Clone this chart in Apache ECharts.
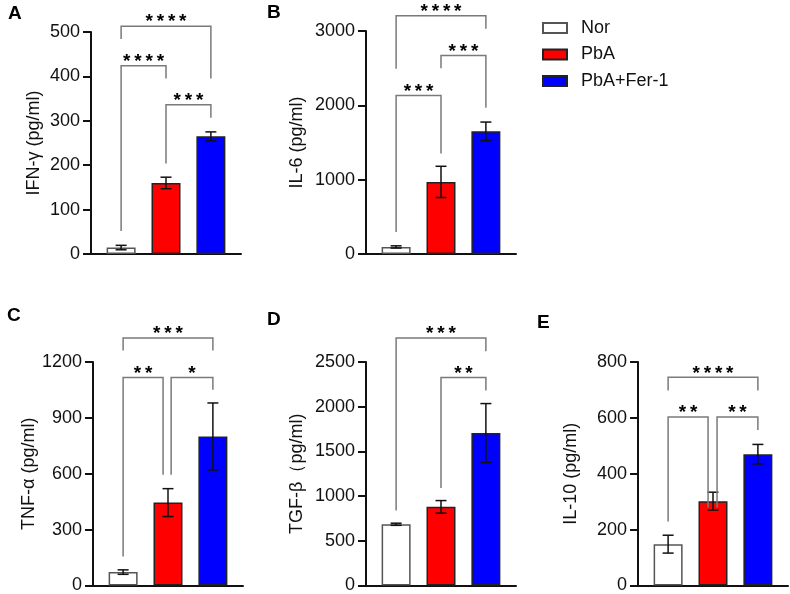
<!DOCTYPE html>
<html>
<head>
<meta charset="utf-8">
<script src="https://cdn.jsdelivr.net/npm/echarts@6.0.0/dist/echarts.min.js"></script>
<style>
  html, body { margin: 0; padding: 0; background: #fff; }
  #chart { width: 790px; height: 594px; }
</style>
</head>
<body>
<div id="chart"></div>
<script>
const groups = ['Nor', 'PbA', 'PbA+Fer-1']
const groupColors = ['#ffffff', '#ff0000', '#0000ff']
const groupBorders = ['#555555', '#222222', '#222222']

// mean / sd per group
const ifnMean = [14.5, 160, 265]
const ifnSd = [5, 13, 10]
const il6Mean = [95, 970, 1650]
const il6Sd = [15, 210, 125]
const tnfMean = [72, 445, 800]
const tnfSd = [12, 75, 180]
const tgfMean = [685, 880, 1705]
const tgfSd = [12, 70, 330]
const il10Mean = [148, 302, 470]
const il10Sd = [32, 32, 35]

// significance brackets: [fromGroup, toGroup, lineY, leftEndY, rightEndY, stars]
const ifnBrackets = [
  [0, 2, 513, 484, 395, 4],
  [0, 1, 424, 52, 395, 4],
  [1, 2, 336, 204, 307, 3],
]
const il6Brackets = [
  [0, 2, 3205, 2491, 3031, 4],
  [1, 2, 2669, 2500, 1969, 3],
  [0, 1, 2133, 295, 1353, 3],
]
const tnfBrackets = [
  [0, 2, 1329, 1262, 1262, 3],
  [0, 0.89, 1117, 156, 595, 2],
  [1.07, 2, 1117, 595, 1051, 1],
]
const tgfBrackets = [
  [0, 2, 2768, 839, 2619, 3],
  [1, 2, 2328, 1090, 2182, 2],
]
const il10Brackets = [
  [0, 2, 745, 698, 698, 4],
  [0, 0.89, 603, 229, 279, 2],
  [1.09, 2, 603, 279, 557, 2],
]

const FONT = 'Arial, "Liberation Sans", sans-serif'

let panels = [
  { letter: 'A', name: 'IFN-γ (pg/ml)', max: 500, interval: 100, mean: ifnMean, sd: ifnSd, brackets: ifnBrackets, left: 91, top: 32, height: 222, nameGap: 48, lx: 8, ly: 4 },
  { letter: 'B', name: 'IL-6 (pg/ml)', max: 3000, interval: 1000, mean: il6Mean, sd: il6Sd, brackets: il6Brackets, left: 366, top: 31, height: 223, nameGap: 60, lx: 267, ly: 3 },
  { letter: 'C', name: 'TNF-α (pg/ml)', max: 1200, interval: 300, mean: tnfMean, sd: tnfSd, brackets: tnfBrackets, left: 93, top: 362, height: 223.5, nameGap: 50, lx: 7, ly: 306 },
  { letter: 'D', name: 'TGF-β（pg/ml)', max: 2500, interval: 500, mean: tgfMean, sd: tgfSd, brackets: tgfBrackets, left: 366, top: 362, height: 223.5, nameGap: 60, lx: 267, ly: 310 },
  { letter: 'E', name: 'IL-10 (pg/ml)', max: 800, interval: 200, mean: il10Mean, sd: il10Sd, brackets: il10Brackets, left: 638, top: 362, height: 223.5, nameGap: 58, lx: 537, ly: 313 },
]

function errorBar(params, api) {
  let x = api.value(0)
  let m = api.value(1)
  let s = api.value(2)
  let top = api.coord([x, m + s])
  let bot = api.coord([x, m - s])
  let hw = 5.5
  let style = { stroke: '#111', lineWidth: 1.5 }
  return {
    type: 'group',
    children: [
      { type: 'line', shape: { x1: top[0], y1: top[1], x2: bot[0], y2: bot[1] }, style: style },
      { type: 'line', shape: { x1: top[0] - hw, y1: top[1], x2: top[0] + hw, y2: top[1] }, style: style },
      { type: 'line', shape: { x1: bot[0] - hw, y1: bot[1], x2: bot[0] + hw, y2: bot[1] }, style: style },
    ],
  }
}

function bracket(params, api) {
  let a = api.coord([api.value(0), api.value(2)])
  let b = api.coord([api.value(1), api.value(2)])
  let yl = api.coord([api.value(0), api.value(3)])[1]
  let yr = api.coord([api.value(1), api.value(4)])[1]
  let stars = new Array(api.value(5)).fill('*').join('\u2009')
  return {
    type: 'group',
    children: [
      {
        type: 'polyline',
        shape: { points: [[a[0], yl], [a[0], a[1]], [b[0], b[1]], [b[0], yr]] },
        style: { stroke: '#7a7a7a', lineWidth: 1.5, fill: null },
      },
      {
        type: 'text',
        style: {
          text: stars, x: (a[0] + b[0]) / 2, y: a[1] - 4,
          align: 'center', verticalAlign: 'middle',
          font: 'bold 19px ' + FONT, fill: '#000',
        },
      },
    ],
  }
}

let grid = [], xAxis = [], yAxis = [], series = [], graphic = []
panels.forEach(function (p, k) {
  grid.push({ left: p.left, top: p.top, width: 150, height: p.height, outerBoundsMode: 'none', containLabel: false })
  xAxis.push({
    type: 'value', gridIndex: k, min: -0.671, max: 2.671,
    axisLine: { show: true, onZero: false, lineStyle: { color: '#111', width: 2 } },
    axisTick: { show: false }, axisLabel: { show: false }, splitLine: { show: false },
  })
  yAxis.push({
    type: 'value', gridIndex: k, min: 0, max: p.max, interval: p.interval,
    name: p.name, nameLocation: 'middle', nameRotate: 90, nameGap: p.nameGap,
    nameTextStyle: { fontSize: 18, color: '#111', fontFamily: FONT },
    axisLine: { show: true, onZero: false, lineStyle: { color: '#111', width: 2 } },
    axisTick: { show: true, length: 8, lineStyle: { color: '#111', width: 2 } },
    axisLabel: {
      fontSize: 18, color: '#111', margin: 11, fontFamily: FONT,
      formatter: function (v) { return String(v) },
    },
    splitLine: { show: false },
  })
  groups.forEach(function (g, i) {
    series.push({
      name: g, type: 'bar', xAxisIndex: k, yAxisIndex: k,
      barWidth: 29, barGap: '-100%',
      data: [[i, p.mean[i]]],
      itemStyle: { color: groupColors[i], borderColor: groupBorders[i], borderWidth: 1.5 },
      silent: true,
    })
  })
  series.push({
    type: 'custom', xAxisIndex: k, yAxisIndex: k, renderItem: errorBar, z: 5,
    data: p.mean.map(function (m, i) { return [i, m, p.sd[i]] }),
    silent: true,
  })
  series.push({
    type: 'custom', xAxisIndex: k, yAxisIndex: k, renderItem: bracket, z: 5,
    data: p.brackets, silent: true,
  })
  graphic.push({
    type: 'text', left: p.lx, top: p.ly,
    style: { text: p.letter, font: 'bold 19px ' + FONT, fill: '#000' },
  })
})

let chart = echarts.init(document.getElementById('chart'))
chart.setOption({
  animation: false,
  backgroundColor: '#fff',
  legend: {
    data: groups, orient: 'vertical', left: 542, top: 19, padding: 0,
    icon: 'rect', itemWidth: 24, itemHeight: 10, itemGap: 8.5,
    textStyle: { fontSize: 18, color: '#111', fontFamily: FONT, lineHeight: 18, padding: [0, 0, 0, 9] },
    selectedMode: false,
  },
  grid: grid,
  xAxis: xAxis,
  yAxis: yAxis,
  series: series,
  graphic: graphic,
})
</script>
</body>
</html>
